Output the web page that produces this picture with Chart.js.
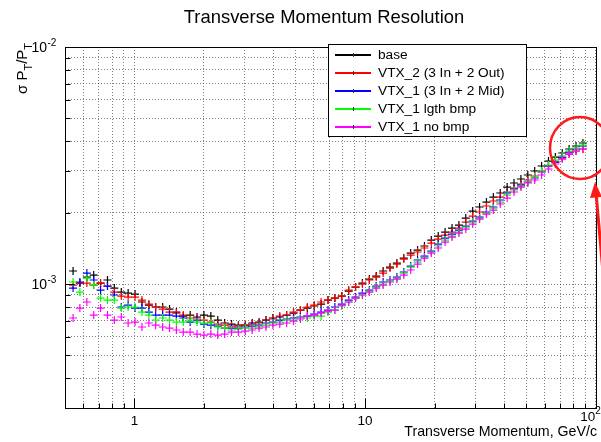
<!DOCTYPE html>
<html>
<head>
<meta charset="utf-8">
<title>Transverse Momentum Resolution</title>
<script src="https://cdn.jsdelivr.net/npm/chart.js@4.4.0/dist/chart.umd.min.js"></script>
<style>
  html, body { margin: 0; padding: 0; background: #ffffff; }
  #wrap { width: 601px; height: 442px; }
</style>
</head>
<body>
<div id="wrap"><canvas id="resChart" width="601" height="442"></canvas></div>
<script>
// pT bin centres, GeV/c
const ptBins = [0.542, 0.580, 0.622, 0.666, 0.713, 0.764, 0.818, 0.877, 0.939, 1.006,
  1.078, 1.155, 1.236, 1.325, 1.419, 1.520, 1.628, 1.744, 1.868, 2.001,
  2.144, 2.297, 2.460, 2.635, 2.823, 3.024, 3.239, 3.470, 3.717, 3.981,
  4.265, 4.569, 4.894, 5.243, 5.616, 6.016, 6.444, 6.903, 7.395, 7.921,
  8.486, 9.090, 9.734, 10.43, 11.17, 11.97, 12.82, 13.73, 14.71, 15.76,
  16.88, 18.08, 19.36, 20.74, 22.22, 23.81, 25.50, 27.31, 29.26, 31.34,
  33.57, 35.96, 38.52, 41.27, 44.21, 47.36, 50.72, 54.34, 58.21, 62.35,
  66.78, 71.54, 76.63, 82.09, 87.94];

// sigma(pT)/pT, in units of 1e-3
const base = [1.135, 1.010, 1.070, 1.091, 1.010, 1.040, 0.962, 0.925, 0.916, 0.907,
  0.840, 0.815, 0.800, 0.800, 0.784, 0.762, 0.733, 0.740, 0.726, 0.740,
  0.733, 0.705, 0.685, 0.678, 0.671, 0.671, 0.685, 0.691, 0.705, 0.719,
  0.726, 0.740, 0.754, 0.777, 0.792, 0.808, 0.823, 0.856, 0.873, 0.890,
  0.934, 0.971, 1.010, 1.050, 1.081, 1.135, 1.179, 1.226, 1.287, 1.351,
  1.391, 1.447, 1.533, 1.594, 1.657, 1.723, 1.774, 1.899, 2.032, 2.114,
  2.218, 2.328, 2.421, 2.566, 2.668, 2.774, 2.884, 2.998, 3.147, 3.303,
  3.434, 3.571, 3.712, 3.822, 3.935];

const vtx2 = [0.990, 1.010, 1.010, 0.990, 1.010, 0.981, 0.925, 0.890, 0.881, 0.881,
  0.856, 0.823, 0.800, 0.784, 0.762, 0.754, 0.740, 0.719, 0.719, 0.705,
  0.691, 0.678, 0.671, 0.665, 0.665, 0.671, 0.678, 0.685, 0.705, 0.712,
  0.733, 0.740, 0.762, 0.777, 0.800, 0.815, 0.840, 0.856, 0.873, 0.890,
  0.943, 0.971, 1.000, 1.040, 1.070, 1.113, 1.168, 1.214, 1.275, 1.325,
  1.365, 1.419, 1.489, 1.548, 1.609, 1.657, 1.723, 1.826, 1.936, 2.013,
  2.134, 2.240, 2.328, 2.445, 2.541, 2.642, 2.747, 2.856, 2.998, 3.147,
  3.271, 3.401, 3.536, 3.641, 3.712];

const vtx1Mid = [0.962, 1.020, 1.113, 1.040, 0.943, 0.981, 0.899, 0.800, 0.815, 0.792,
  0.792, 0.762, 0.740, 0.740, 0.740, 0.733, 0.719, 0.691, 0.705, 0.678,
  0.671, 0.665, 0.652, 0.652, 0.652, 0.659, 0.665, 0.671, 0.685, 0.691,
  0.705, 0.712, 0.719, 0.726, 0.733, 0.747, 0.762, 0.777, 0.800, 0.823,
  0.856, 0.881, 0.916, 0.943, 0.981, 1.020, 1.040, 1.070, 1.124, 1.191,
  1.263, 1.312, 1.378, 1.475, 1.563, 1.625, 1.689, 1.757, 1.844, 1.917,
  2.013, 2.114, 2.262, 2.421, 2.517, 2.616, 2.694, 2.801, 2.969, 3.147,
  3.271, 3.434, 3.605, 3.712, 3.822];

const vtx1Lgth = [1.020, 0.925, 1.060, 0.990, 0.873, 0.856, 0.856, 0.792, 0.800, 0.800,
  0.762, 0.740, 0.705, 0.719, 0.705, 0.691, 0.691, 0.705, 0.691, 0.685,
  0.685, 0.659, 0.652, 0.640, 0.646, 0.652, 0.652, 0.665, 0.671, 0.685,
  0.691, 0.705, 0.705, 0.719, 0.719, 0.733, 0.733, 0.762, 0.777, 0.808,
  0.840, 0.873, 0.899, 0.934, 0.971, 1.000, 1.030, 1.060, 1.113, 1.179,
  1.238, 1.300, 1.365, 1.447, 1.533, 1.594, 1.657, 1.739, 1.826, 1.899,
  1.993, 2.092, 2.218, 2.374, 2.493, 2.591, 2.694, 2.828, 2.998, 3.178,
  3.335, 3.468, 3.641, 3.748, 3.857];

const vtx1NoBmp = [0.719, 0.792, 0.840, 0.740, 0.792, 0.740, 0.705, 0.726, 0.685, 0.691,
  0.659, 0.685, 0.671, 0.659, 0.652, 0.640, 0.627, 0.627, 0.615, 0.609,
  0.615, 0.609, 0.615, 0.627, 0.627, 0.633, 0.640, 0.652, 0.659, 0.671,
  0.678, 0.685, 0.698, 0.712, 0.733, 0.740, 0.754, 0.769, 0.777, 0.815,
  0.840, 0.873, 0.899, 0.925, 0.962, 0.990, 1.020, 1.050, 1.091, 1.146,
  1.214, 1.287, 1.351, 1.419, 1.504, 1.578, 1.641, 1.706, 1.791, 1.880,
  1.974, 2.052, 2.176, 2.306, 2.445, 2.566, 2.668, 2.747, 2.884, 3.057,
  3.209, 3.368, 3.536, 3.641, 3.712];

const seriesNames = ['base', 'VTX_2 (3 In + 2 Out)', 'VTX_1 (3 In + 2 Mid)', 'VTX_1 lgth bmp', 'VTX_1 no bmp'];
const seriesValues = [base, vtx2, vtx1Mid, vtx1Lgth, vtx1NoBmp];
const seriesColors = ['#000000', '#ff0000', '#0000ff', '#00ff00', '#ff00ff'];

// axis ticks (every one gets a dotted grid line, majors get a label)
const xTickValues = [0.5, 0.6, 0.7, 0.8, 0.9, 1, 2, 3, 4, 5, 6, 7, 8, 9, 10,
  20, 30, 40, 50, 60, 70, 80, 90, 100];
const xMajorTicks = [1, 10, 100];
const xMajorText = ['1', '10', '10'];
const xMajorSup = ['', '', '2'];
const yTickValues = [3e-4, 4e-4, 5e-4, 6e-4, 7e-4, 8e-4, 9e-4, 1e-3,
  2e-3, 3e-3, 4e-3, 5e-3, 6e-3, 7e-3, 8e-3, 9e-3, 1e-2];
const yMajorTicks = [1e-3, 1e-2];
const yMajorSup = ['-3', '-2'];

const FONT = '"Liberation Sans", Arial, Helvetica, sans-serif';

function line(ctx, x1, y1, x2, y2) {
    ctx.beginPath();
    ctx.moveTo(x1, y1);
    ctx.lineTo(x2, y2);
    ctx.stroke();
}

// ROOT-like frame, inward ticks, labels, legend and the red annotation
const rootStyle = {
    id: 'rootStyle',
    afterDraw(chart) {
        const ctx = chart.ctx;
        const a = chart.chartArea;
        const xs = chart.scales.x;
        const ys = chart.scales.y;
        const L = Math.round(a.left) + 0.5, R = Math.round(a.right) + 0.5;
        const T = Math.round(a.top) + 0.5, B = Math.round(a.bottom) + 0.5;
        ctx.save();

        // frame
        ctx.strokeStyle = '#000';
        ctx.lineWidth = 1;
        ctx.strokeRect(L, T, R - L, B - T);

        // tick marks pointing into the frame
        xTickValues.forEach(v => {
            const px = Math.round(xs.getPixelForValue(v)) + 0.5;
            const len = xMajorTicks.indexOf(v) >= 0 ? 10 : 5;
            line(ctx, px, B, px, B - len);
        });
        yTickValues.forEach(v => {
            const py = Math.round(ys.getPixelForValue(v)) + 0.5;
            const len = yMajorTicks.indexOf(v) >= 0 ? 9 : 5;
            line(ctx, L, py, L + len, py);
        });

        ctx.fillStyle = '#000';
        ctx.textBaseline = 'middle';

        // x labels; the 10^2 one sits against the right edge like the original
        xMajorTicks.forEach((v, i) => {
            const px = xs.getPixelForValue(v);
            ctx.font = '13.5px ' + FONT;
            ctx.textAlign = 'left';
            const w1 = ctx.measureText(xMajorText[i]).width;
            if (xMajorSup[i]) {
                const x0 = px - w1 - 0.5;
                ctx.fillText(xMajorText[i], x0, B + 9);
                ctx.font = '10px ' + FONT;
                ctx.fillText(xMajorSup[i], x0 + w1, B + 3);
            } else {
                ctx.fillText(xMajorText[i], px - w1 / 2, B + 13);
            }
        });

        // y labels (10 with exponent)
        yMajorTicks.forEach((v, i) => {
            const py = ys.getPixelForValue(v);
            ctx.font = '14px ' + FONT;
            ctx.textAlign = 'right';
            ctx.fillText('10', 47, py + 1.5);
            ctx.font = '10px ' + FONT;
            ctx.textAlign = 'left';
            ctx.fillText(yMajorSup[i], 47.5, py - 3.5);
        });

        // title
        ctx.font = '18.4px ' + FONT;
        ctx.textAlign = 'center';
        ctx.fillText('Transverse Momentum Resolution', 324, 18);

        // x axis title
        ctx.font = '14.2px ' + FONT;
        ctx.textAlign = 'right';
        ctx.fillText('Transverse Momentum, GeV/c', 597, 432);

        // y axis title, rotated
        ctx.save();
        ctx.translate(23, 94);
        ctx.rotate(-Math.PI / 2);
        ctx.textAlign = 'left';
        let cx = 0;
        const parts = [['\u03c3 P', 15, 0], ['T', 11, 6], ['/P', 15, 0], ['T', 11, 6]];
        parts.forEach(p => {
            ctx.font = p[1] + 'px ' + FONT;
            ctx.fillText(p[0], cx, p[2]);
            cx += ctx.measureText(p[0]).width;
        });
        ctx.restore();

        // legend
        const lx = 328.5, ly = 44.5, lw = 198, lh = 92;
        ctx.fillStyle = '#fff';
        ctx.fillRect(lx, ly, lw, lh);
        ctx.strokeStyle = '#000';
        ctx.lineWidth = 1;
        ctx.strokeRect(lx, ly, lw, lh);
        ctx.font = '13.7px ' + FONT;
        ctx.textAlign = 'left';
        seriesNames.forEach((name, i) => {
            const ry = 55 + 18 * i;
            ctx.strokeStyle = seriesColors[i];
            ctx.lineWidth = 2;
            line(ctx, 335, ry, 371, ry);
            ctx.strokeStyle = '#333';
            ctx.lineWidth = 1;
            line(ctx, 353.5, ry - 2, 353.5, ry + 2);
            ctx.fillStyle = '#000';
            ctx.fillText(name, 378, ry);
        });

        // red annotation circle and arrow
        ctx.strokeStyle = '#ff1a1a';
        ctx.lineWidth = 2.5;
        ctx.beginPath();
        ctx.ellipse(580, 148, 30, 31, 0, 0, Math.PI * 2);
        ctx.stroke();
        ctx.lineWidth = 3;
        line(ctx, 596, 192, 608, 330);
        ctx.fillStyle = '#ff1a1a';
        ctx.beginPath();
        ctx.moveTo(595, 182);
        ctx.lineTo(590, 198);
        ctx.lineTo(602, 197);
        ctx.closePath();
        ctx.fill();

        ctx.restore();
    }
};

const datasets = seriesNames.map((name, i) => ({
    label: name,
    data: ptBins.map((x, j) => ({ x: x, y: seriesValues[i][j] * 1e-3 })),
    showLine: false,
    pointStyle: 'cross',
    pointRadius: 4,
    pointBorderWidth: 1.2,
    borderColor: seriesColors[i],
    backgroundColor: seriesColors[i],
    order: seriesNames.length - i
}));

const gridStyle = { color: 'rgba(0,0,0,0.5)', lineWidth: 1, drawTicks: false };

new Chart(document.getElementById('resChart'), {
    type: 'scatter',
    data: { datasets: datasets },
    options: {
        responsive: false,
        animation: false,
        devicePixelRatio: 1,
        layout: { padding: { left: 65, right: 4, top: 47, bottom: 34 } },
        plugins: {
            legend: { display: false },
            tooltip: { enabled: false },
            title: { display: false }
        },
        scales: {
            x: {
                type: 'logarithmic',
                min: 0.5,
                max: 100,
                afterBuildTicks: s => { s.ticks = xTickValues.map(v => ({ value: v })); },
                ticks: { display: false, autoSkip: false },
                grid: gridStyle,
                border: { display: false, dash: [1, 2] }
            },
            y: {
                type: 'logarithmic',
                min: 3e-4,
                max: 1e-2,
                afterBuildTicks: s => { s.ticks = yTickValues.map(v => ({ value: v })); },
                ticks: { display: false, autoSkip: false },
                grid: gridStyle,
                border: { display: false, dash: [1, 2] }
            }
        }
    },
    plugins: [rootStyle]
});
</script>
</body>
</html>
